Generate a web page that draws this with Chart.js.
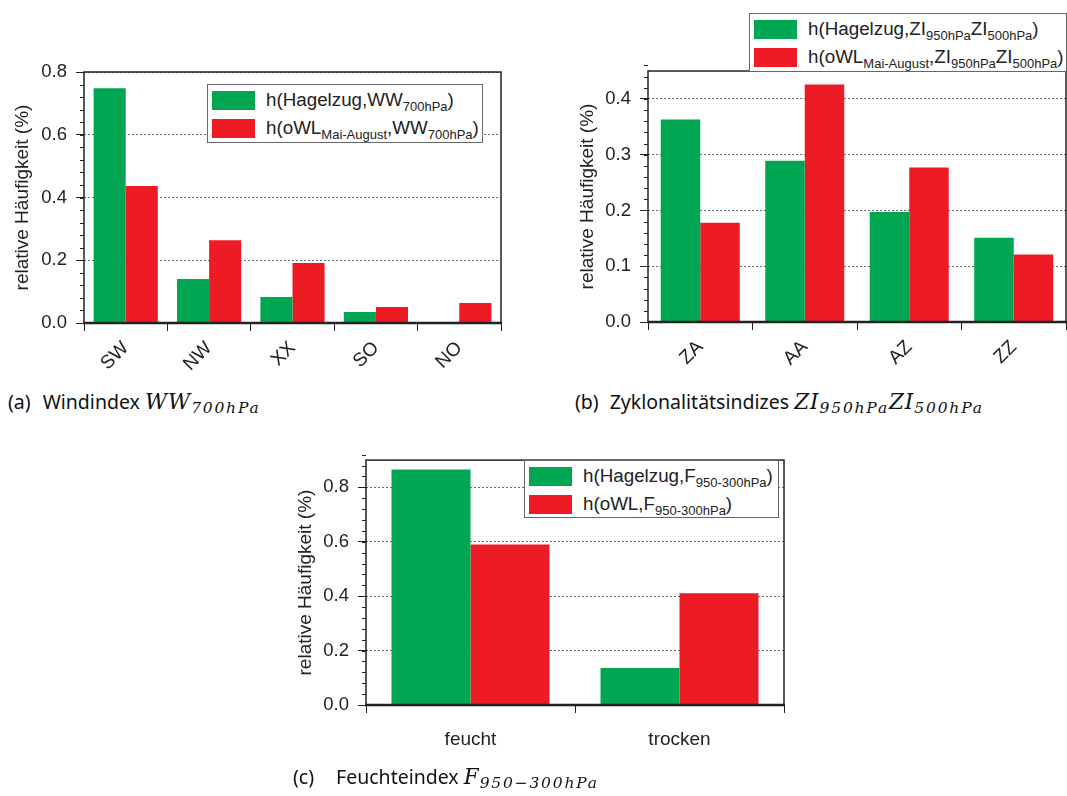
<!DOCTYPE html>
<html><head><meta charset="utf-8">
<script src="https://cdn.jsdelivr.net/npm/chart.js@4.4.0/dist/chart.umd.min.js"></script>
<style>
body{margin:0;width:1067px;height:796px;background:#fff;position:relative;overflow:hidden;font-family:"Liberation Sans",Arial,sans-serif;}
canvas{position:absolute;}
.legend{position:absolute;border:1.5px solid #666;background:#fff;box-sizing:border-box;padding:1px 0 0 4px;}
.row{display:flex;align-items:center;height:28px;}
.sw{width:43px;height:19px;margin-right:11px;flex:none;}
.lt{font-size:18.8px;color:#222;white-space:nowrap;line-height:20px;}
.lt sub{font-size:13px;vertical-align:-5px;line-height:0;}
.cap{position:absolute;font-family:"Noto Sans",sans-serif;font-size:19.5px;color:#111;white-space:nowrap;line-height:24px;}
.m{font-family:"DejaVu Serif",serif;font-style:italic;font-size:21.5px;letter-spacing:1px;}
.m sub{font-size:15.5px;vertical-align:-4px;line-height:0;letter-spacing:1.8px;}
</style>
</head><body>
<canvas id="ca" width="510" height="330" style="left:0;top:50px"></canvas>
<canvas id="cb" width="507" height="340" style="left:560px;top:40px"></canvas>
<canvas id="cc" width="510" height="330" style="left:280px;top:440px"></canvas>

<div class="legend" style="left:207px;top:84px;width:276px;height:59px;">
  <div class="row"><div class="sw" style="background:#00A651"></div><div class="lt">h(Hagelzug,WW<sub>700hPa</sub>)</div></div>
  <div class="row"><div class="sw" style="background:#ED1C24"></div><div class="lt">h(oWL<sub>Mai-August</sub>,WW<sub>700hPa</sub>)</div></div>
</div>
<div class="legend" style="left:749px;top:13px;width:318px;height:59px;">
  <div class="row"><div class="sw" style="background:#00A651"></div><div class="lt">h(Hagelzug,ZI<sub>950hPa</sub>ZI<sub>500hPa</sub>)</div></div>
  <div class="row"><div class="sw" style="background:#ED1C24"></div><div class="lt">h(oWL<sub>Mai-August</sub>,ZI<sub>950hPa</sub>ZI<sub>500hPa</sub>)</div></div>
</div>
<div class="legend" style="left:524px;top:460px;width:255px;height:58px;">
  <div class="row"><div class="sw" style="background:#00A651"></div><div class="lt">h(Hagelzug,F<sub>950-300hPa</sub>)</div></div>
  <div class="row"><div class="sw" style="background:#ED1C24"></div><div class="lt">h(oWL,F<sub>950-300hPa</sub>)</div></div>
</div>

<div class="cap" style="left:8px;top:390px;"><span style="margin-right:12px">(a)</span>Windindex <span class="m">WW<sub>700hPa</sub></span></div>
<div class="cap" style="left:575px;top:390px;"><span style="margin-right:11px">(b)</span>Zyklonalitätsindizes <span class="m">ZI<sub>950hPa</sub>ZI<sub>500hPa</sub></span></div>
<div class="cap" style="left:293px;top:765px;"><span style="margin-right:22px">(c)</span>Feuchteindex <span class="m">F<sub>950−300hPa</sub></span></div>

<script>
// ---- data ----
const catA = ['SW', 'NW', 'XX', 'SO', 'NO'];
const hagelA = [0.748, 0.140, 0.083, 0.035, 0.0];
const owlA = [0.437, 0.264, 0.191, 0.051, 0.064];

const catB = ['ZA', 'AA', 'AZ', 'ZZ'];
const hagelB = [0.363, 0.289, 0.197, 0.151];
const owlB = [0.178, 0.426, 0.277, 0.121];

const catC = ['feucht', 'trocken'];
const hagelC = [0.865, 0.136];
const owlC = [0.590, 0.411];

const yTitle = 'relative Häufigkeit (%)';
const seriesNames = ['Hagelzug', 'oWL'];

const GREEN = '#00A651', RED = '#ED1C24', INK = '#222';
const FONT = '"Liberation Sans", Arial, sans-serif';

const framePlugin = {
  id: 'frame',
  afterDraw(chart, args, opts) {
    const {ctx, chartArea: a} = chart;
    const y = chart.scales.y;
    ctx.save();
    ctx.strokeStyle = INK;
    ctx.lineWidth = 1;
    const n = Math.round(y.max / opts.minor + 1e-9);
    for (let i = 0; i <= n; i++) {
      const py = Math.round(y.getPixelForValue(i * opts.minor)) + 0.5;
      ctx.beginPath(); ctx.moveTo(a.left - 4, py); ctx.lineTo(a.left, py); ctx.stroke();
    }
    ctx.lineWidth = 1.5;
    ctx.strokeRect(a.left, a.top, a.right - a.left, a.bottom - a.top);
    ctx.lineWidth = 2.5;
    ctx.beginPath(); ctx.moveTo(a.left - 1, a.bottom); ctx.lineTo(a.right + 1, a.bottom); ctx.stroke();
    ctx.restore();
  }
};

function makeChart(id, cats, g, r, cfg) {
  return new Chart(document.getElementById(id), {
    type: 'bar',
    data: {
      labels: cats,
      datasets: [
        {label: seriesNames[0], data: g, backgroundColor: GREEN, borderWidth: 0, categoryPercentage: cfg.catPct, barPercentage: 1},
        {label: seriesNames[1], data: r, backgroundColor: RED, borderWidth: 0, categoryPercentage: cfg.catPct, barPercentage: 1}
      ]
    },
    options: {
      responsive: false, animation: false, devicePixelRatio: 1,
      layout: {padding: cfg.pad},
      plugins: {legend: {display: false}, tooltip: {enabled: false}, frame: {minor: cfg.minor}},
      scales: {
        x: {
          grid: {offset: true, drawOnChartArea: false, tickLength: 8, tickColor: INK, lineWidth: 1},
          border: {display: false},
          ticks: {font: {family: FONT, size: 19}, color: INK, minRotation: cfg.rot, maxRotation: cfg.rot, padding: cfg.xpad, autoSkip: false},
          afterFit(s) { s.height = cfg.xh; }
        },
        y: {
          min: 0, max: cfg.max,
          afterBuildTicks(s) { s.ticks = s.ticks.filter(t => Math.abs(t.value / cfg.major - Math.round(t.value / cfg.major)) < 1e-6); },
          ticks: {stepSize: cfg.major, callback: v => Number(v).toFixed(1), font: {family: FONT, size: 18.5}, color: INK, padding: 9},
          grid: {color: '#6a6a6a', lineWidth: 1, tickLength: 8, tickColor: INK, tickWidth: 1, tickBorderDash: []},
          border: {display: false, dash: [2, 2]},
          title: {display: true, text: yTitle, font: {family: FONT, size: 19}, color: INK, padding: {top: cfg.tpad, bottom: 0}},
          afterFit(s) { s.width = cfg.yw; }
        }
      }
    },
    plugins: [framePlugin]
  });
}

makeChart('ca', catA, hagelA, owlA, {catPct: 0.77, max: 0.8, major: 0.2, minor: 0.04, rot: 45, xpad: 6, xh: 57, yw: 84, tpad: 11, pad: {top: 22, right: 9, left: 0, bottom: 0}});
makeChart('cb', catB, hagelB, owlB, {catPct: 0.756, max: 0.45, major: 0.1, minor: 0.02, rot: 45, xpad: 6, xh: 58, yw: 88, tpad: 16, pad: {top: 31, right: 1, left: 0, bottom: 0}});
makeChart('cc', catC, hagelC, owlC, {catPct: 0.756, max: 0.9, major: 0.2, minor: 0.04, rot: 0, xpad: 15, xh: 65, yw: 86, tpad: 14, pad: {top: 14, right: 6, left: 0, bottom: 0}});
</script>
</body></html>
